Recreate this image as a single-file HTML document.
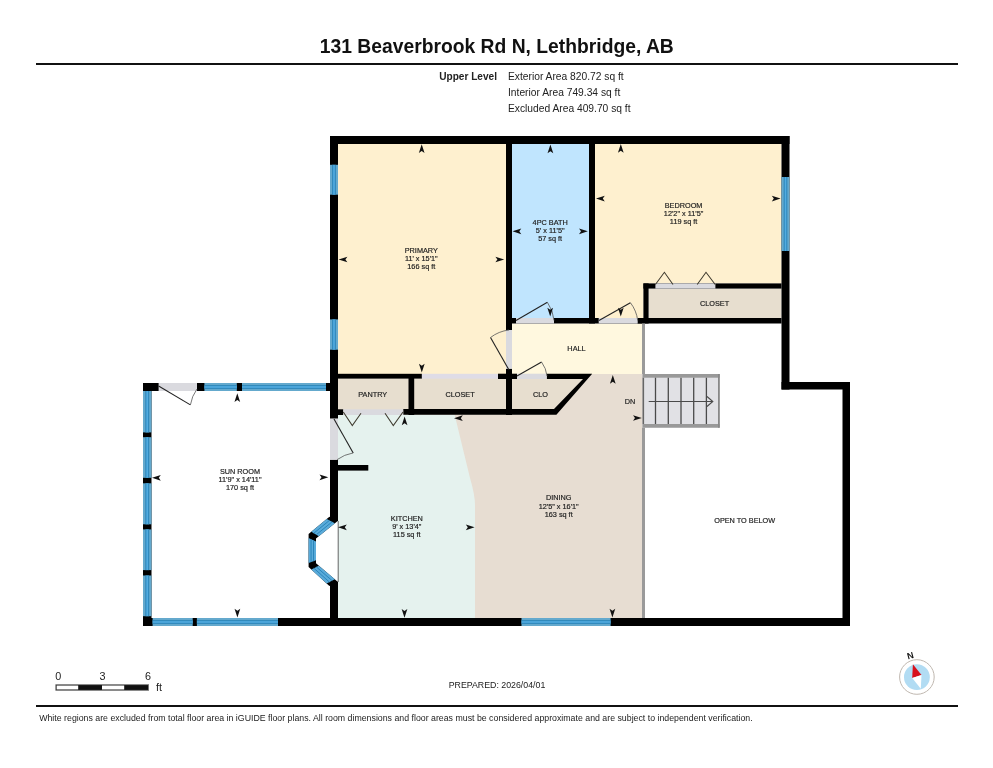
<!DOCTYPE html><html><head><meta charset="utf-8"><title>131 Beaverbrook Rd N, Lethbridge, AB</title><style>html,body{margin:0;padding:0;background:#fff;overflow:hidden}svg{display:block;will-change:transform}text{font-family:"Liberation Sans",sans-serif}</style></head><body>
<svg width="993" height="768" viewBox="0 0 993 768">
<rect width="993" height="768" fill="#fff"/>
<text x="496.8" y="53.2" font-size="19.3" text-anchor="middle" font-weight="bold" fill="#111" >131 Beaverbrook Rd N, Lethbridge, AB</text>
<rect x="36" y="63" width="922" height="2" fill="#111"/>
<text x="497" y="80" font-size="10.1" text-anchor="end" font-weight="bold" fill="#222" >Upper Level</text>
<text x="508" y="80" font-size="10.25" text-anchor="start" font-weight="normal" fill="#222" >Exterior Area 820.72 sq ft</text>
<text x="508" y="96" font-size="10.25" text-anchor="start" font-weight="normal" fill="#222" >Interior Area 749.34 sq ft</text>
<text x="508" y="112" font-size="10.25" text-anchor="start" font-weight="normal" fill="#222" >Excluded Area 409.70 sq ft</text>
<rect x="338" y="144" width="168" height="230" fill="#FEF0CF"/>
<rect x="512" y="144" width="77" height="174" fill="#C0E5FE"/>
<polygon points="595,144 781.5,144 781.5,283.5 643.5,283.5 643.5,318 595,318" fill="#FEF0CF"/>
<rect x="648.6" y="288.6" width="132.9" height="29.4" fill="#E7DECF"/>
<rect x="506" y="323.5" width="137" height="50.5" fill="#FFF8DF"/>
<rect x="338" y="374" width="305" height="244" fill="#E7DDD2"/>
<path d="M338,415 L454.7,415 L470,478 Q475,495 475,505 L475,618 L338,618 Z" fill="#E5F2EE"/>
<rect x="338" y="378.6" width="70.5" height="30.7" fill="#E7DECF"/>
<rect x="414.2" y="378.6" width="91.8" height="30.7" fill="#E7DECF"/>
<polygon points="512,379 583,379 554,409.1 512,409.1" fill="#E7DECF"/>
<rect x="642.5" y="374" width="77.1" height="53.7" fill="#E1E1E5"/>
<rect x="330" y="136" width="459.5" height="8" fill="#000"/>
<rect x="330" y="136" width="8" height="282.7" fill="#000"/>
<rect x="781.5" y="136" width="8.0" height="253.5" fill="#000"/>
<rect x="781.5" y="382" width="68.5" height="7.5" fill="#000"/>
<rect x="842.5" y="382" width="7.5" height="244" fill="#000"/>
<rect x="143" y="618" width="707" height="8" fill="#000"/>
<rect x="330" y="459.7" width="8" height="61.3" fill="#000"/>
<rect x="330" y="581.7" width="8" height="44.3" fill="#000"/>
<rect x="143" y="383" width="8.5" height="243" fill="#000"/>
<rect x="143" y="383" width="187" height="8" fill="#000"/>
<rect x="506" y="136" width="6" height="194" fill="#000"/>
<rect x="506" y="368.7" width="6" height="46.3" fill="#000"/>
<rect x="589" y="136" width="6" height="187.5" fill="#000"/>
<rect x="512" y="318" width="131.5" height="5.5" fill="#000"/>
<rect x="643.4" y="283.4" width="138.1" height="5.2" fill="#000"/>
<rect x="643.4" y="283.4" width="5.2" height="40.1" fill="#000"/>
<rect x="637.4" y="318" width="144.1" height="5.5" fill="#000"/>
<rect x="338" y="373.8" width="83.9" height="4.8" fill="#000"/>
<rect x="498" y="373.7" width="19" height="5.3" fill="#000"/>
<polygon points="546.7,373.7 592.2,373.7 556.4,414.8 403.2,414.8 403.2,409.1 554,409.1 583,379 546.7,379" fill="#000"/>
<rect x="338" y="409.3" width="5.3" height="5.7" fill="#000"/>
<rect x="408.5" y="378" width="5.7" height="37" fill="#000"/>
<rect x="338" y="465" width="30.3" height="5.6" fill="#000"/>
<polygon points="329.4,516.75 337.7,521 316,538.4 316,563.3 337.7,581.7 329.4,586 308.6,566.9 308.6,534" fill="#000"/>
<rect x="158.6" y="383" width="38.4" height="8" fill="#DADADF"/>
<rect x="516" y="318" width="38" height="5.5" fill="#DADADF"/>
<rect x="598.7" y="318" width="39.0" height="5.5" fill="#DADADF"/>
<rect x="655.4" y="283.4" width="60.0" height="5.2" fill="#DADADF"/>
<rect x="506" y="330" width="6" height="38.7" fill="#DADADF"/>
<rect x="421.9" y="373.8" width="76.1" height="4.8" fill="#DFDCE6"/>
<rect x="517" y="373.7" width="29.7" height="5.3" fill="#DADADF"/>
<rect x="343.3" y="409.3" width="59.9" height="5.7" fill="#DADADF"/>
<rect x="330" y="418.7" width="8" height="41.0" fill="#DADADF"/>
<rect x="642" y="323.5" width="3" height="50.5" fill="#9A9A9A"/>
<rect x="642" y="427.7" width="3" height="190.3" fill="#9A9A9A"/>
<rect x="330" y="164.8" width="8" height="29.9" fill="#64A9CD"/>
<rect x="332.6666666666667" y="164.8" width="2.67" height="29.9" fill="#52ACE0"/>
<line x1="332.67" y1="164.8" x2="332.67" y2="194.7" stroke="#2580B5" stroke-width="0.9"/>
<line x1="335.33" y1="164.8" x2="335.33" y2="194.7" stroke="#2580B5" stroke-width="0.9"/>
<rect x="330" y="319.4" width="8" height="30.3" fill="#64A9CD"/>
<rect x="332.6666666666667" y="319.4" width="2.67" height="30.3" fill="#52ACE0"/>
<line x1="332.67" y1="319.4" x2="332.67" y2="349.7" stroke="#2580B5" stroke-width="0.9"/>
<line x1="335.33" y1="319.4" x2="335.33" y2="349.7" stroke="#2580B5" stroke-width="0.9"/>
<rect x="781.5" y="177" width="8.0" height="74" fill="#64A9CD"/>
<rect x="784.1666666666666" y="177" width="2.67" height="74" fill="#52ACE0"/>
<line x1="784.17" y1="177" x2="784.17" y2="251" stroke="#2580B5" stroke-width="0.9"/>
<line x1="786.83" y1="177" x2="786.83" y2="251" stroke="#2580B5" stroke-width="0.9"/>
<rect x="152.6" y="618" width="40.1" height="8" fill="#64A9CD"/>
<rect x="152.6" y="620.6666666666666" width="40.1" height="2.67" fill="#52ACE0"/>
<line x1="152.6" y1="620.67" x2="192.7" y2="620.67" stroke="#2580B5" stroke-width="0.9"/>
<line x1="152.6" y1="623.33" x2="192.7" y2="623.33" stroke="#2580B5" stroke-width="0.9"/>
<rect x="196.9" y="618" width="81.1" height="8" fill="#64A9CD"/>
<rect x="196.9" y="620.6666666666666" width="81.1" height="2.67" fill="#52ACE0"/>
<line x1="196.9" y1="620.67" x2="278" y2="620.67" stroke="#2580B5" stroke-width="0.9"/>
<line x1="196.9" y1="623.33" x2="278" y2="623.33" stroke="#2580B5" stroke-width="0.9"/>
<rect x="521.5" y="618" width="89.1" height="8" fill="#64A9CD"/>
<rect x="521.5" y="620.6666666666666" width="89.1" height="2.67" fill="#52ACE0"/>
<line x1="521.5" y1="620.67" x2="610.6" y2="620.67" stroke="#2580B5" stroke-width="0.9"/>
<line x1="521.5" y1="623.33" x2="610.6" y2="623.33" stroke="#2580B5" stroke-width="0.9"/>
<rect x="204.4" y="383" width="32.4" height="8" fill="#64A9CD"/>
<rect x="204.4" y="385.6666666666667" width="32.4" height="2.67" fill="#52ACE0"/>
<line x1="204.4" y1="385.67" x2="236.8" y2="385.67" stroke="#2580B5" stroke-width="0.9"/>
<line x1="204.4" y1="388.33" x2="236.8" y2="388.33" stroke="#2580B5" stroke-width="0.9"/>
<rect x="242" y="383" width="84" height="8" fill="#64A9CD"/>
<rect x="242" y="385.6666666666667" width="84" height="2.67" fill="#52ACE0"/>
<line x1="242" y1="385.67" x2="326" y2="385.67" stroke="#2580B5" stroke-width="0.9"/>
<line x1="242" y1="388.33" x2="326" y2="388.33" stroke="#2580B5" stroke-width="0.9"/>
<rect x="143" y="391" width="8.5" height="41.4" fill="#64A9CD"/>
<rect x="145.83333333333334" y="391" width="2.83" height="41.4" fill="#52ACE0"/>
<line x1="145.83" y1="391" x2="145.83" y2="432.4" stroke="#2580B5" stroke-width="0.9"/>
<line x1="148.67" y1="391" x2="148.67" y2="432.4" stroke="#2580B5" stroke-width="0.9"/>
<rect x="143" y="437.2" width="8.5" height="40.6" fill="#64A9CD"/>
<rect x="145.83333333333334" y="437.2" width="2.83" height="40.6" fill="#52ACE0"/>
<line x1="145.83" y1="437.2" x2="145.83" y2="477.8" stroke="#2580B5" stroke-width="0.9"/>
<line x1="148.67" y1="437.2" x2="148.67" y2="477.8" stroke="#2580B5" stroke-width="0.9"/>
<rect x="143" y="483.3" width="8.5" height="41.0" fill="#64A9CD"/>
<rect x="145.83333333333334" y="483.3" width="2.83" height="41.0" fill="#52ACE0"/>
<line x1="145.83" y1="483.3" x2="145.83" y2="524.3" stroke="#2580B5" stroke-width="0.9"/>
<line x1="148.67" y1="483.3" x2="148.67" y2="524.3" stroke="#2580B5" stroke-width="0.9"/>
<rect x="143" y="529.4" width="8.5" height="40.7" fill="#64A9CD"/>
<rect x="145.83333333333334" y="529.4" width="2.83" height="40.7" fill="#52ACE0"/>
<line x1="145.83" y1="529.4" x2="145.83" y2="570.1" stroke="#2580B5" stroke-width="0.9"/>
<line x1="148.67" y1="529.4" x2="148.67" y2="570.1" stroke="#2580B5" stroke-width="0.9"/>
<rect x="143" y="575.5" width="8.5" height="40.7" fill="#64A9CD"/>
<rect x="145.83333333333334" y="575.5" width="2.83" height="40.7" fill="#52ACE0"/>
<line x1="145.83" y1="575.5" x2="145.83" y2="616.2" stroke="#2580B5" stroke-width="0.9"/>
<line x1="148.67" y1="575.5" x2="148.67" y2="616.2" stroke="#2580B5" stroke-width="0.9"/>
<polygon points="326.7,518.99 311.3,531.76 318.82,536.14 334.88,523.26" fill="#5AABDA"/>
<line x1="329.42" y1="520.42" x2="313.81" y2="533.22" stroke="#2580B5" stroke-width="0.9"/>
<line x1="332.15" y1="521.84" x2="316.32" y2="534.68" stroke="#2580B5" stroke-width="0.9"/>
<polygon points="308.6,537.95 308.6,562.95 316.0,560.31 316.0,541.39" fill="#5AABDA"/>
<line x1="311.07" y1="539.09" x2="311.07" y2="562.07" stroke="#2580B5" stroke-width="0.9"/>
<line x1="313.53" y1="540.24" x2="313.53" y2="561.19" stroke="#2580B5" stroke-width="0.9"/>
<polygon points="311.3,569.38 326.7,583.52 334.88,579.31 318.82,565.69" fill="#5AABDA"/>
<line x1="313.81" y1="568.15" x2="329.42" y2="582.11" stroke="#2580B5" stroke-width="0.9"/>
<line x1="316.32" y1="566.92" x2="332.15" y2="580.71" stroke="#2580B5" stroke-width="0.9"/>
<line x1="338.2" y1="521" x2="338.2" y2="582" stroke="#666" stroke-width="1"/>
<rect x="642.5" y="374" width="77.1" height="3.7" fill="#999"/>
<rect x="642.5" y="424" width="77.1" height="3.7" fill="#999"/>
<line x1="655.5" y1="377.7" x2="655.5" y2="424" stroke="#4a4a4a" stroke-width="1.3"/>
<line x1="668.3" y1="377.7" x2="668.3" y2="424" stroke="#4a4a4a" stroke-width="1.3"/>
<line x1="681" y1="377.7" x2="681" y2="424" stroke="#4a4a4a" stroke-width="1.3"/>
<line x1="693.7" y1="377.7" x2="693.7" y2="424" stroke="#4a4a4a" stroke-width="1.3"/>
<line x1="706.4" y1="377.7" x2="706.4" y2="424" stroke="#4a4a4a" stroke-width="1.3"/>
<rect x="642.5" y="377.7" width="1.6" height="46.3" fill="#666"/>
<rect x="718" y="374" width="1.8" height="53.7" fill="#888"/>
<line x1="648.7" y1="401.5" x2="712.8" y2="401.5" stroke="#4a4a4a" stroke-width="1.1"/>
<polyline points="707,396.5 712.8,401.5 707,406.5" fill="none" stroke="#4a4a4a" stroke-width="1.1"/>
<line x1="158.6" y1="386" x2="190.4" y2="404.9" stroke="#222" stroke-width="1.1"/>
<path d="M190.4,404.9 A36.99,36.99 0 0 1 197,389" fill="none" stroke="#555" stroke-width="0.8"/>
<line x1="516" y1="320.5" x2="547.4" y2="302.3" stroke="#222" stroke-width="1.1"/>
<path d="M547.4,302.3 A36.29,36.29 0 0 1 554,320.5" fill="none" stroke="#555" stroke-width="0.8"/>
<line x1="599" y1="320.5" x2="630.4" y2="302.7" stroke="#222" stroke-width="1.1"/>
<path d="M630.4,302.7 A36.09,36.09 0 0 1 637.7,320.5" fill="none" stroke="#555" stroke-width="0.8"/>
<line x1="509" y1="370" x2="490.5" y2="337.5" stroke="#222" stroke-width="1.1"/>
<path d="M490.5,337.5 A37.40,37.40 0 0 1 509,330" fill="none" stroke="#555" stroke-width="0.8"/>
<line x1="517" y1="376" x2="541.6" y2="362.1" stroke="#222" stroke-width="1.1"/>
<path d="M541.6,362.1 A28.26,28.26 0 0 1 547,376" fill="none" stroke="#555" stroke-width="0.8"/>
<line x1="334" y1="419" x2="353.2" y2="452.9" stroke="#222" stroke-width="1.1"/>
<path d="M353.2,452.9 A38.96,38.96 0 0 0 337,459.7" fill="none" stroke="#555" stroke-width="0.8"/>
<polyline points="655.4,284.5 664.4,272.3 673,284.5" fill="none" stroke="#3E3A2E" stroke-width="1.05"/>
<polyline points="697.2,284.5 706,272.3 715.2,284.5" fill="none" stroke="#3E3A2E" stroke-width="1.05"/>
<polyline points="343.3,412 352.3,425.5 361,413.3" fill="none" stroke="#3E3A2E" stroke-width="1.05"/>
<polyline points="385,413.3 393.3,425.5 403,412" fill="none" stroke="#3E3A2E" stroke-width="1.05"/>
<polygon points="421.7,144.2 418.85,153.0 421.7,151.0 424.55,153.0" fill="#111"/>
<polygon points="421.8,372.5 418.95,363.7 421.8,365.7 424.65,363.7" fill="#111"/>
<polygon points="338.6,259.5 347.4,256.65 345.4,259.5 347.4,262.35" fill="#111"/>
<polygon points="504.2,259.5 495.4,256.65 497.4,259.5 495.4,262.35" fill="#111"/>
<polygon points="550.4,144.5 547.55,153.3 550.4,151.3 553.25,153.3" fill="#111"/>
<polygon points="550.2,316.5 547.35,307.7 550.2,309.7 553.05,307.7" fill="#111"/>
<polygon points="512.5,231.3 521.3,228.45 519.3,231.3 521.3,234.15" fill="#111"/>
<polygon points="587.8,231.3 579.0,228.45 581.0,231.3 579.0,234.15" fill="#111"/>
<polygon points="620.8,144 617.95,152.8 620.8,150.8 623.65,152.8" fill="#111"/>
<polygon points="620.8,316.6 617.95,307.8 620.8,309.8 623.65,307.8" fill="#111"/>
<polygon points="596,198.6 604.8,195.75 602.8,198.6 604.8,201.45" fill="#111"/>
<polygon points="780.6,198.6 771.8,195.75 773.8,198.6 771.8,201.45" fill="#111"/>
<polygon points="237.3,393.3 234.45,402.1 237.3,400.1 240.15,402.1" fill="#111"/>
<polygon points="237.4,617.5 234.55,608.7 237.4,610.7 240.25,608.7" fill="#111"/>
<polygon points="152,477.8 160.8,474.95 158.8,477.8 160.8,480.65" fill="#111"/>
<polygon points="328.3,477.3 319.5,474.45 321.5,477.3 319.5,480.15" fill="#111"/>
<polygon points="404.6,416.5 401.75,425.3 404.6,423.3 407.45,425.3" fill="#111"/>
<polygon points="404.5,617.7 401.65,608.9 404.5,610.9 407.35,608.9" fill="#111"/>
<polygon points="338,527.3 346.8,524.45 344.8,527.3 346.8,530.15" fill="#111"/>
<polygon points="474.6,527.3 465.8,524.45 467.8,527.3 465.8,530.15" fill="#111"/>
<polygon points="612.8,375 609.95,383.8 612.8,381.8 615.65,383.8" fill="#111"/>
<polygon points="612.4,617.5 609.55,608.7 612.4,610.7 615.25,608.7" fill="#111"/>
<polygon points="454,418.2 462.8,415.35 460.8,418.2 462.8,421.05" fill="#111"/>
<polygon points="641.8,418 633.0,415.15 635.0,418 633.0,420.85" fill="#111"/>
<text x="421.3" y="252.7" font-size="7.3" text-anchor="middle" font-weight="normal" fill="#222" stroke="#222" stroke-width="0.18" >PRIMARY</text>
<text x="421.3" y="260.9" font-size="7.3" text-anchor="middle" font-weight="normal" fill="#222" stroke="#222" stroke-width="0.18" >11' x 15'1&quot;</text>
<text x="421.3" y="269.1" font-size="7.3" text-anchor="middle" font-weight="normal" fill="#222" stroke="#222" stroke-width="0.18" >166 sq ft</text>
<text x="550.2" y="225.0" font-size="7.3" text-anchor="middle" font-weight="normal" fill="#222" stroke="#222" stroke-width="0.18" >4PC BATH</text>
<text x="550.2" y="233.2" font-size="7.3" text-anchor="middle" font-weight="normal" fill="#222" stroke="#222" stroke-width="0.18" >5' x 11'5&quot;</text>
<text x="550.2" y="241.4" font-size="7.3" text-anchor="middle" font-weight="normal" fill="#222" stroke="#222" stroke-width="0.18" >57 sq ft</text>
<text x="683.6" y="207.7" font-size="7.3" text-anchor="middle" font-weight="normal" fill="#222" stroke="#222" stroke-width="0.18" >BEDROOM</text>
<text x="683.6" y="215.9" font-size="7.3" text-anchor="middle" font-weight="normal" fill="#222" stroke="#222" stroke-width="0.18" >12'2&quot; x 11'5&quot;</text>
<text x="683.6" y="224.1" font-size="7.3" text-anchor="middle" font-weight="normal" fill="#222" stroke="#222" stroke-width="0.18" >119 sq ft</text>
<text x="240" y="473.5" font-size="7.3" text-anchor="middle" font-weight="normal" fill="#222" stroke="#222" stroke-width="0.18" >SUN ROOM</text>
<text x="240" y="481.7" font-size="7.3" text-anchor="middle" font-weight="normal" fill="#222" stroke="#222" stroke-width="0.18" >11'9&quot; x 14'11&quot;</text>
<text x="240" y="489.9" font-size="7.3" text-anchor="middle" font-weight="normal" fill="#222" stroke="#222" stroke-width="0.18" >170 sq ft</text>
<text x="406.8" y="521.0" font-size="7.3" text-anchor="middle" font-weight="normal" fill="#222" stroke="#222" stroke-width="0.18" >KITCHEN</text>
<text x="406.8" y="529.2" font-size="7.3" text-anchor="middle" font-weight="normal" fill="#222" stroke="#222" stroke-width="0.18" >9' x 13'4&quot;</text>
<text x="406.8" y="537.4" font-size="7.3" text-anchor="middle" font-weight="normal" fill="#222" stroke="#222" stroke-width="0.18" >115 sq ft</text>
<text x="558.7" y="500.4" font-size="7.3" text-anchor="middle" font-weight="normal" fill="#222" stroke="#222" stroke-width="0.18" >DINING</text>
<text x="558.7" y="508.6" font-size="7.3" text-anchor="middle" font-weight="normal" fill="#222" stroke="#222" stroke-width="0.18" >12'5&quot; x 16'1&quot;</text>
<text x="558.7" y="516.8" font-size="7.3" text-anchor="middle" font-weight="normal" fill="#222" stroke="#222" stroke-width="0.18" >163 sq ft</text>
<text x="744.7" y="523.1" font-size="7.3" text-anchor="middle" font-weight="normal" fill="#222" stroke="#222" stroke-width="0.18" >OPEN TO BELOW</text>
<text x="576.5" y="351.3" font-size="7.3" text-anchor="middle" font-weight="normal" fill="#222" stroke="#222" stroke-width="0.18" >HALL</text>
<text x="714.6" y="306" font-size="7.3" text-anchor="middle" font-weight="normal" fill="#222" stroke="#222" stroke-width="0.18" >CLOSET</text>
<text x="372.7" y="397" font-size="7.3" text-anchor="middle" font-weight="normal" fill="#222" stroke="#222" stroke-width="0.18" >PANTRY</text>
<text x="460" y="397" font-size="7.3" text-anchor="middle" font-weight="normal" fill="#222" stroke="#222" stroke-width="0.18" >CLOSET</text>
<text x="540.5" y="397" font-size="7.3" text-anchor="middle" font-weight="normal" fill="#222" stroke="#222" stroke-width="0.18" >CLO</text>
<text x="630" y="403.5" font-size="7.3" text-anchor="middle" font-weight="normal" fill="#222" stroke="#222" stroke-width="0.18" >DN</text>
<rect x="55.8" y="684.7" width="92.8" height="5.6" fill="#111"/>
<rect x="56.6" y="685.5" width="21.6" height="4.0" fill="#fff"/>
<rect x="55.8" y="684.7" width="92.8" height="5.6" fill="none" stroke="#777" stroke-width="0.8"/>
<rect x="102" y="685.5" width="22.2" height="4.0" fill="#fff"/>
<text x="58.2" y="680.4" font-size="10.8" text-anchor="middle" font-weight="normal" fill="#222" >0</text>
<text x="102.5" y="680.4" font-size="10.8" text-anchor="middle" font-weight="normal" fill="#222" >3</text>
<text x="148" y="680.4" font-size="10.8" text-anchor="middle" font-weight="normal" fill="#222" >6</text>
<text x="155.9" y="690.7" font-size="10.8" text-anchor="start" font-weight="normal" fill="#222" >ft</text>
<text x="497" y="688.1" font-size="8.8" text-anchor="middle" font-weight="normal" fill="#222" >PREPARED: 2026/04/01</text>
<circle cx="916.9" cy="677" r="17.3" fill="#fff" stroke="#C0B8B0" stroke-width="1"/>
<circle cx="916.9" cy="677.2" r="12.9" fill="#B2DCF3"/>
<polygon points="912.9,664.3 921.5,675.1 912.2,678" fill="#D8101C"/>
<polygon points="912.2,678 921.5,675.1 920.8,688.7" fill="#fff"/>
<text x="910.2" y="658.6" font-size="9" text-anchor="middle" font-weight="bold" fill="#111" transform="rotate(-15 910.4 655.4)">N</text>
<rect x="36" y="705" width="922" height="2" fill="#111"/>
<text x="39.2" y="721" font-size="9.3" text-anchor="start" font-weight="normal" fill="#222" textLength="713.5" lengthAdjust="spacingAndGlyphs">White regions are excluded from total floor area in iGUIDE floor plans. All room dimensions and floor areas must be considered approximate and are subject to independent verification.</text>
</svg></body></html>
